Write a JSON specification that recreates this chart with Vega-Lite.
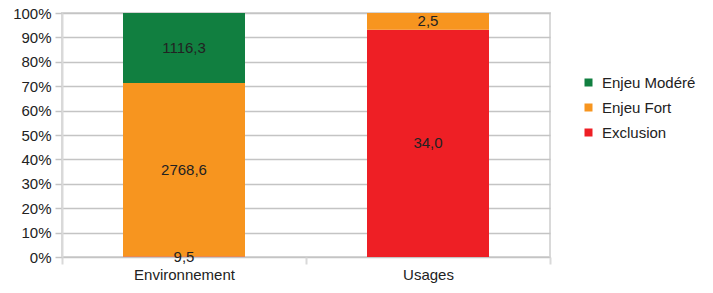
{
  "$schema": "https://vega.github.io/schema/vega-lite/v6.json",
  "width": 488,
  "height": 244,
  "autosize": {"type": "none"},
  "padding": {"left": 62, "top": 13, "right": 163, "bottom": 36},
  "background": "white",
  "config": {
    "font": "Liberation Sans",
    "view": {"stroke": "#d9d9d9", "strokeWidth": 2},
    "axis": {"labelFont": "Liberation Sans", "labelFontSize": 15, "labelColor": "#222222"},
    "legend": {"labelFont": "Liberation Sans", "labelFontSize": 15, "labelColor": "#222222"}
  },
  "data": {
    "values": [
      {"cat": "Environnement", "s": "Exclusion", "v": 9.5, "lab": "9,5", "k": 1},
      {"cat": "Environnement", "s": "Enjeu Fort", "v": 2768.6, "lab": "2768,6", "k": 2},
      {"cat": "Environnement", "s": "Enjeu Modéré", "v": 1116.3, "lab": "1116,3", "k": 3},
      {"cat": "Usages", "s": "Exclusion", "v": 34.0, "lab": "34,0", "k": 1},
      {"cat": "Usages", "s": "Enjeu Fort", "v": 2.5, "lab": "2,5", "k": 2}
    ]
  },
  "transform": [
    {"stack": "v", "groupby": ["cat"], "sort": [{"field": "k", "order": "ascending"}], "offset": "normalize", "as": ["y0", "y1"]},
    {"calculate": "(datum.y0 + datum.y1) / 2", "as": "ym"}
  ],
  "encoding": {
    "x": {
      "field": "cat", "type": "nominal", "title": null,
      "scale": {"paddingInner": 0, "paddingOuter": 0},
      "axis": {"labelAngle": 0, "domain": false, "grid": false, "tickBand": "extent", "ticks": true, "tickSize": 7, "tickColor": "#d9d9d9", "tickWidth": 2, "labelPadding": 3}
    }
  },
  "layer": [
    {
      "mark": {"type": "bar", "width": {"band": 0.5}},
      "encoding": {
        "y": {
          "field": "y0", "type": "quantitative", "title": null,
          "scale": {"domain": [0, 1], "nice": false},
          "axis": {"format": ".0%", "values": [0, 0.1, 0.2, 0.3, 0.4, 0.5, 0.6, 0.7, 0.8, 0.9, 1], "labelOverlap": false, "grid": true, "gridColor": "#c4c4c4", "gridWidth": 1.5, "tickColor": "#c4c4c4", "tickWidth": 1.5, "tickSize": 7, "domain": true, "domainColor": "#d9d9d9", "domainWidth": 2, "labelPadding": 4}
        },
        "y2": {"field": "y1"},
        "color": {
          "field": "s", "type": "nominal",
          "scale": {"domain": ["Enjeu Modéré", "Enjeu Fort", "Exclusion"], "range": ["#117f40", "#f7951f", "#ee1f25"]},
          "legend": {"title": null, "orient": "none", "legendX": 519, "legendY": 62, "symbolType": "square", "symbolSize": 64, "symbolStrokeWidth": 0, "labelOffset": 6, "rowPadding": 9, "padding": 0}
        }
      }
    },
    {
      "mark": {"type": "text", "baseline": "middle", "align": "center", "fontSize": 15, "color": "#222222", "font": "Liberation Sans"},
      "encoding": {
        "y": {
          "field": "ym", "type": "quantitative", "title": null,
          "scale": {"domain": [0, 1], "nice": false},
          "axis": {"format": ".0%", "values": [0, 0.1, 0.2, 0.3, 0.4, 0.5, 0.6, 0.7, 0.8, 0.9, 1], "labelOverlap": false, "grid": true, "gridColor": "#c4c4c4", "gridWidth": 1.5, "tickColor": "#c4c4c4", "tickWidth": 1.5, "tickSize": 7, "domain": true, "domainColor": "#d9d9d9", "domainWidth": 2, "labelPadding": 4}
        },
        "text": {"field": "lab", "type": "nominal"}
      }
    }
  ]
}
